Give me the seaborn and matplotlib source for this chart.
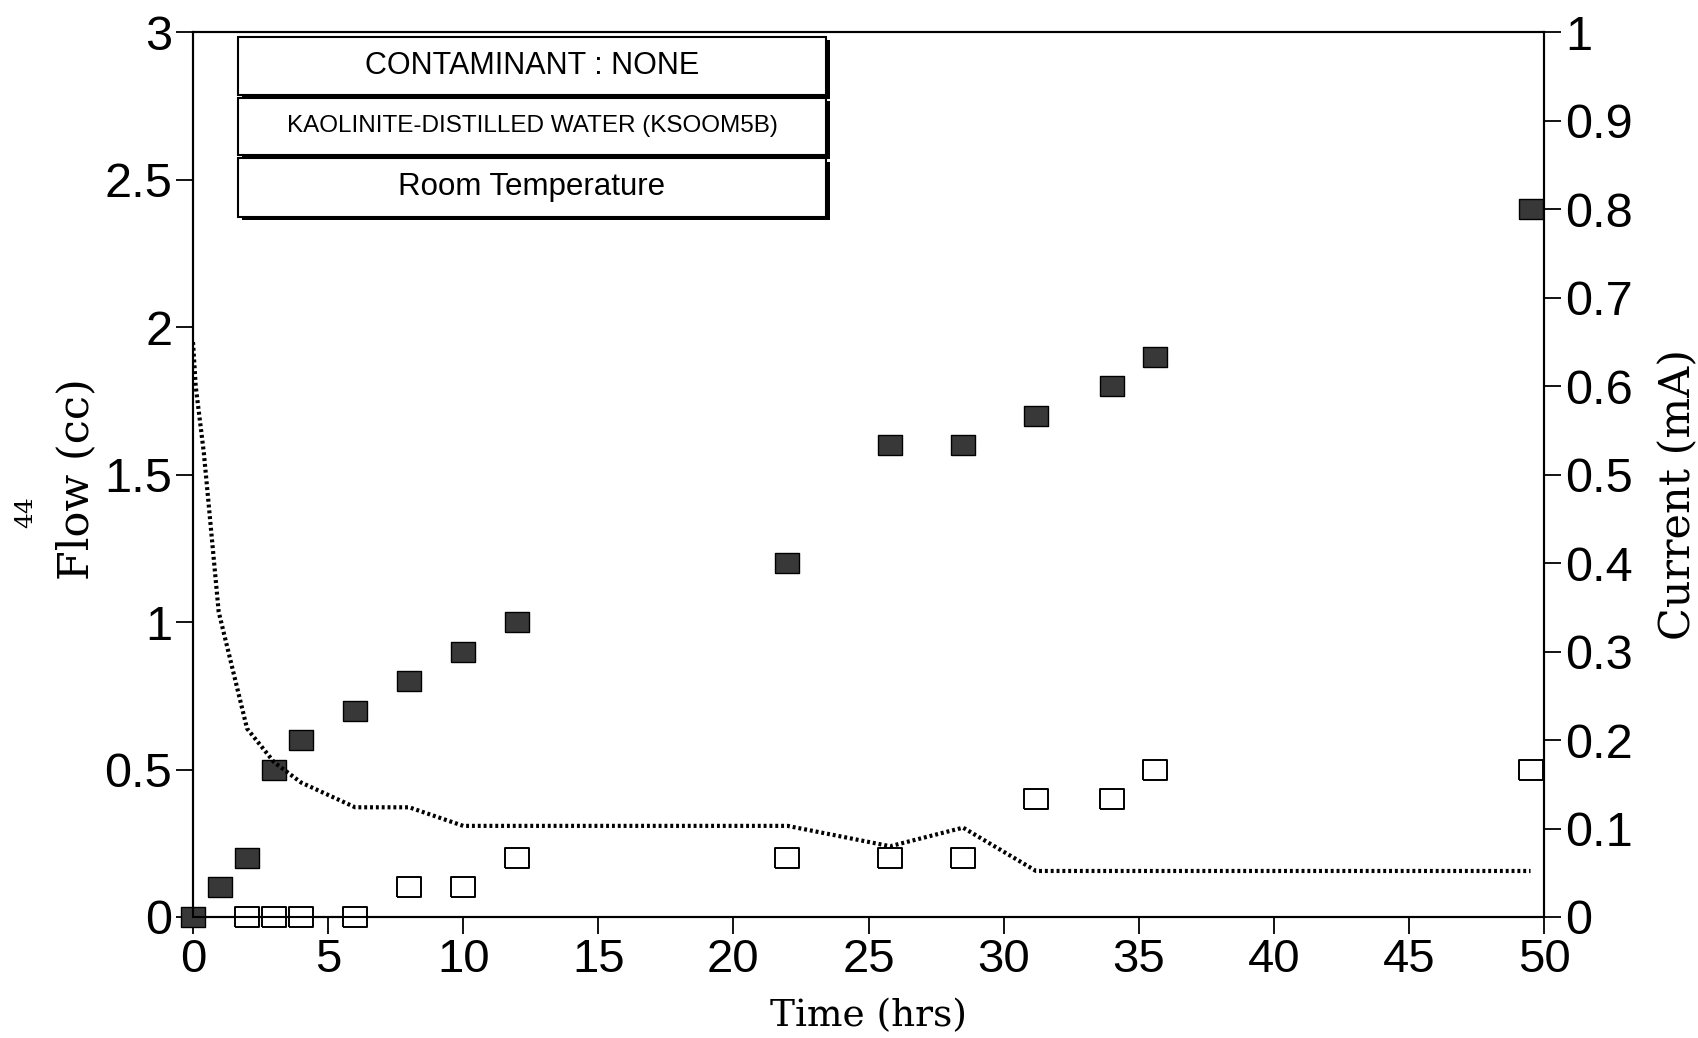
import numpy as np
import pandas as pd
import matplotlib.pyplot as plt
from matplotlib.patches import Rectangle
import seaborn as sns

# flow readings (cc) - filled / open squares
time_filled = [0, 1, 2, 3, 4, 6, 8, 10, 12, 22, 25.8, 28.5, 31.2, 34, 35.6, 49.5]
flow_filled = [0, 0.1, 0.2, 0.5, 0.6, 0.7, 0.8, 0.9, 1.0, 1.2, 1.6, 1.6, 1.7, 1.8, 1.9, 2.4]
time_open = [2, 3, 4, 6, 8, 10, 12, 22, 25.8, 28.5, 31.2, 34, 35.6, 49.5]
flow_open = [0, 0, 0, 0, 0.1, 0.1, 0.2, 0.2, 0.2, 0.2, 0.4, 0.4, 0.5, 0.5]

# current (mA) - dotted line
time_current = [0, 0.1, 0.4, 0.6, 0.95, 2, 3, 4, 6, 8, 10, 12, 22, 25.8, 28.5, 31.2, 34, 35.6, 49.5]
current = [0.65, 0.60, 0.525, 0.46, 0.345, 0.213, 0.175, 0.152, 0.124, 0.124, 0.103, 0.103,
           0.103, 0.080, 0.101, 0.052, 0.052, 0.052, 0.052]

x_ticks = [0, 5, 10, 15, 20, 25, 30, 35, 40, 45, 50]
flow_ticks = [0, 0.5, 1, 1.5, 2, 2.5, 3]
flow_ticklabels = ['0', '0.5', '1', '1.5', '2', '2.5', '3']
current_ticks = [0, 0.1, 0.2, 0.3, 0.4, 0.5, 0.6, 0.7, 0.8, 0.9, 1]
current_ticklabels = ['0', '0.1', '0.2', '0.3', '0.4', '0.5', '0.6', '0.7', '0.8', '0.9', '1']

box_texts = ['CONTAMINANT : NONE', 'KAOLINITE-DISTILLED WATER (KSOOM5B)', 'Room Temperature']

df_filled = pd.DataFrame({'time': time_filled, 'flow': flow_filled})
df_open = pd.DataFrame({'time': time_open, 'flow': flow_open})
df_cur = pd.DataFrame({'time': time_current, 'current': current})

sns.set_style('ticks')
plt.rcParams['font.family'] = ['Liberation Sans', 'DejaVu Sans']
plt.rcParams['text.color'] = 'black'
plt.rcParams['axes.labelcolor'] = 'black'
plt.rcParams['xtick.color'] = 'black'
plt.rcParams['ytick.color'] = 'black'

fig = plt.figure(figsize=(16.99, 10.38), dpi=100)
ax = fig.add_axes([0.1136, 0.1166, 0.7952, 0.8521])
ax2 = ax.twinx()

# slightly wide rectangle marker
rect = [(-1.2, -1), (1.2, -1), (1.2, 1), (-1.2, 1), (-1.2, -1)]

sns.scatterplot(data=df_open, x='time', y='flow', ax=ax, marker=rect, s=300,
                color='white', edgecolor='black', linewidth=1.4, clip_on=False, zorder=3)
sns.scatterplot(data=df_filled, x='time', y='flow', ax=ax, marker=rect, s=300,
                color='#383838', edgecolor='black', linewidth=1.0, clip_on=False, zorder=4)
sns.lineplot(data=df_cur, x='time', y='current', ax=ax2, color='black', lw=3,
             linestyle=(0, (0.7, 0.7)), estimator=None, sort=False)

ax.set_xlim(0, 50)
ax.set_ylim(0, 3)
ax2.set_ylim(0, 1)
ax.set_xticks(x_ticks)
ax.set_yticks(flow_ticks)
ax.set_yticklabels(flow_ticklabels)
ax2.set_yticks(current_ticks)
ax2.set_yticklabels(current_ticklabels)

for a in (ax, ax2):
    for s in a.spines.values():
        s.set_visible(True)
        s.set_color('black')
        s.set_linewidth(1.5)
ax.tick_params(axis='x', labelsize=34, length=12, width=1.3, pad=3)
ax.tick_params(axis='y', labelsize=35, length=12, width=1.3, pad=3)
ax2.tick_params(axis='y', labelsize=35, length=12, width=1.3, pad=3)

serif = ['DejaVu Serif']
ax.set_xlabel('Time (hrs)', fontsize=27, family=serif)
ax.set_ylabel('Flow (cc)', fontsize=31, family=serif)
ax2.set_ylabel('Current (mA)', fontsize=31, family=serif)
ax.xaxis.set_label_coords(0.5, -0.092)
ax.yaxis.set_label_coords(-0.071, 0.495)
ax2.yaxis.set_label_coords(1.084, 0.478)

# stacked info boxes
box_y = [(0.929, 0.995), (0.8615, 0.926), (0.7915, 0.858)]
box_size = [22, 17.5, 22.5]
for (y0, y1), txt, fs in zip(box_y, box_texts, box_size):
    ax.add_patch(Rectangle((0.036, y0 - 0.004), 0.4353, y1 - y0, transform=ax.transAxes,
                           facecolor='black', edgecolor='none', zorder=5))
    ax.add_patch(Rectangle((0.0333, y0), 0.4353, y1 - y0, transform=ax.transAxes,
                           facecolor='white', edgecolor='black', lw=1.5, zorder=6))
    ax.text(0.0333 + 0.4353 / 2, (y0 + y1) / 2, txt, transform=ax.transAxes,
            ha='center', va='center', fontsize=fs, zorder=7)

fig.text(0.015, 0.507, '44', rotation=90, fontsize=18, family=serif, ha='center', va='center')

fig.savefig('out.png', dpi=100)
